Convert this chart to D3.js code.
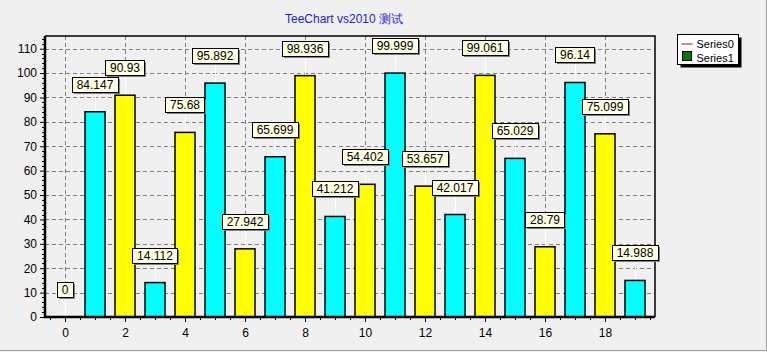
<!DOCTYPE html>
<html>
<head>
<meta charset="utf-8">
<script src="https://cdn.jsdelivr.net/npm/d3@7"></script>
<style>
body { margin: 0; background: #f0f0f0; }
svg { display: block; font-family: "Liberation Sans", Arial, sans-serif; }
</style>
</head>
<body>
<svg width="767" height="352"></svg>
<script>
// Chart data
var xValues = [0, 1, 2, 3, 4, 5, 6, 7, 8, 9, 10, 11, 12, 13, 14, 15, 16, 17, 18, 19];
var barValues = [0, 84.147, 90.93, 14.112, 75.68, 95.892, 27.942, 65.699, 98.936, 41.212,
                 54.402, 99.999, 53.657, 42.017, 99.061, 65.029, 28.79, 96.14, 75.099, 14.988];
var barColors = ['#00ffff', '#ffff00'];
var yTicks = [0, 10, 20, 30, 40, 50, 60, 70, 80, 90, 100, 110];
var xTicks = [0, 2, 4, 6, 8, 10, 12, 14, 16, 18];
var legendNames = ['Series0', 'Series1'];

var svg = d3.select('svg');
var svgWidth = +svg.attr('width');
var svgHeight = +svg.attr('height');

// Plot area
var plot = {l: 45, r: 655, t: 36, b: 317};

var xScale = d3.scaleLinear().domain([-0.667, 19.667]).range([plot.l, plot.r]);
var yScale = d3.scaleLinear().domain([0, 115.2]).range([plot.b, plot.t]);

// panel background and edge
svg.append('rect').attr('x', 0).attr('y', 0).attr('width', svgWidth).attr('height', svgHeight)
    .attr('fill', '#f0f0f0');
svg.append('path')
    .attr('d', 'M0,350.5H766.5V0')
    .attr('fill', 'none').attr('stroke', '#a0a0a0').attr('stroke-width', 1);

// title
svg.append('text')
    .attr('x', 285).attr('y', 23)
    .attr('font-size', 12)
    .attr('fill', '#1c1cdc')
    .text('TeeChart vs2010 测试');

// grid
var gridG = svg.append('g');
gridG.selectAll('.hgrid').data(yTicks.slice(1)).enter().append('line')
    .attr('x1', plot.l).attr('x2', plot.r)
    .attr('y1', function(d) { return Math.round(yScale(d)) + 0.5; })
    .attr('y2', function(d) { return Math.round(yScale(d)) + 0.5; })
    .attr('stroke', '#808080').attr('stroke-dasharray', '4,3');
gridG.selectAll('.vgrid').data(xTicks).enter().append('line')
    .attr('y1', plot.t).attr('y2', plot.b)
    .attr('x1', function(d) { return Math.round(xScale(d)) + 0.5; })
    .attr('x2', function(d) { return Math.round(xScale(d)) + 0.5; })
    .attr('stroke', '#808080').attr('stroke-dasharray', '4,3');

// connectors from marks to bars
var labelGap = 20;
var boxH = 15;
svg.append('g').selectAll('line').data(xValues).enter().append('line')
    .attr('x1', function(d) { return Math.round(xScale(d)) + 0.5; })
    .attr('x2', function(d) { return Math.round(xScale(d)) + 0.5; })
    .attr('y1', function(d, i) { return yScale(barValues[i]); })
    .attr('y2', function(d, i) { return yScale(barValues[i]) - labelGap; })
    .attr('stroke', '#ffffff');

// bars
var barW = 20;
svg.append('g').selectAll('rect').data(xValues).enter().append('rect')
    .filter(function(d, i) { return barValues[i] > 0; })
    .attr('x', function(d) { return xScale(d) - barW / 2; })
    .attr('y', function(d) { return yScale(barValues[d]); })
    .attr('width', barW)
    .attr('height', function(d) { return yScale(0) - yScale(barValues[d]); })
    .attr('fill', function(d) { return barColors[(d + 1) % 2]; })
    .attr('stroke', '#000').attr('stroke-width', 1.5);

// frame
svg.append('path')
    .attr('d', 'M' + plot.l + ',' + plot.t + 'H' + plot.r + 'V' + plot.b)
    .attr('fill', 'none').attr('stroke', '#000').attr('stroke-width', 1.5);

// axes
var yAxis = d3.axisLeft(yScale).tickValues(yTicks).tickSize(5).tickPadding(3).tickFormat(d3.format('d'));
var yAxisG = svg.append('g').attr('transform', 'translate(' + plot.l + ',0)').call(yAxis);
var xAxis = d3.axisBottom(xScale).tickValues(xTicks).tickSize(5).tickPadding(6).tickFormat(d3.format('d'));
var xAxisG = svg.append('g').attr('transform', 'translate(0,' + plot.b + ')').call(xAxis);
[yAxisG, xAxisG].forEach(function(g) {
    g.select('.domain').remove();
    g.selectAll('text').attr('font-size', 12).attr('font-family', '"Liberation Sans", Arial, sans-serif').attr('fill', '#000');
    g.selectAll('line').attr('stroke', '#000');
});

// minor ticks
var xMinor = d3.range(-0.5, 19.6, 0.5).filter(function(v) { return v % 2 !== 0; });
svg.append('g').selectAll('line').data(xMinor).enter().append('line')
    .attr('x1', function(d) { return Math.round(xScale(d)) + 0.5; })
    .attr('x2', function(d) { return Math.round(xScale(d)) + 0.5; })
    .attr('y1', plot.b).attr('y2', plot.b + 3)
    .attr('stroke', '#000');
var yMinor = d3.range(2, 115, 2).filter(function(v) { return v % 10 !== 0; });
svg.append('g').selectAll('line').data(yMinor).enter().append('line')
    .attr('y1', function(d) { return Math.round(yScale(d)) + 0.5; })
    .attr('y2', function(d) { return Math.round(yScale(d)) + 0.5; })
    .attr('x1', plot.l - 3).attr('x2', plot.l)
    .attr('stroke', '#000');

svg.append('path')
    .attr('d', 'M' + plot.l + ',' + plot.t + 'V' + plot.b + 'H' + plot.r)
    .attr('fill', 'none').attr('stroke', '#000').attr('stroke-width', 2.5);

// marks
var marks = svg.append('g').selectAll('g').data(xValues).enter().append('g')
    .attr('transform', function(d) {
        return 'translate(' + [Math.round(xScale(d)), Math.round(yScale(barValues[d]) - labelGap - boxH)] + ')';
    });
marks.append('text')
    .attr('y', 12)
    .attr('text-anchor', 'middle')
    .attr('font-size', 12)
    .attr('fill', '#000')
    .text(function(d) { return barValues[d]; });
marks.each(function() {
    var g = d3.select(this);
    var w = Math.round(g.select('text').node().getComputedTextLength()) + 9;
    var x0 = -Math.round(w / 2) + 0.5;
    g.insert('rect', 'text').attr('x', x0 + 1.5).attr('y', 2).attr('width', w).attr('height', boxH)
        .attr('fill', '#808080');
    g.insert('rect', 'text').attr('x', x0).attr('y', 0.5).attr('width', w).attr('height', boxH)
        .attr('fill', '#ffffe1').attr('stroke', '#000');
});

// legend
var legendG = svg.append('g').attr('transform', 'translate(677.5,34.5)');
legendG.append('rect').attr('x', 3).attr('y', 3).attr('width', 61).attr('height', 30).attr('fill', '#000');
legendG.append('rect').attr('width', 61).attr('height', 30).attr('fill', '#fff').attr('stroke', '#000');
legendG.append('line').attr('x1', 4).attr('x2', 15).attr('y1', 9.5).attr('y2', 9.5)
    .attr('stroke', '#c00000').attr('stroke-width', 1);
legendG.append('rect').attr('x', 5).attr('y', 17).attr('width', 9).attr('height', 9)
    .attr('fill', '#007800').attr('stroke', '#000');
legendG.selectAll('.ltext').data(legendNames).enter().append('text')
    .attr('x', 19).attr('y', function(d, i) { return 13 + i * 14; })
    .attr('font-size', 11).attr('fill', '#000')
    .text(function(d) { return d; });
</script>
</body>
</html>
